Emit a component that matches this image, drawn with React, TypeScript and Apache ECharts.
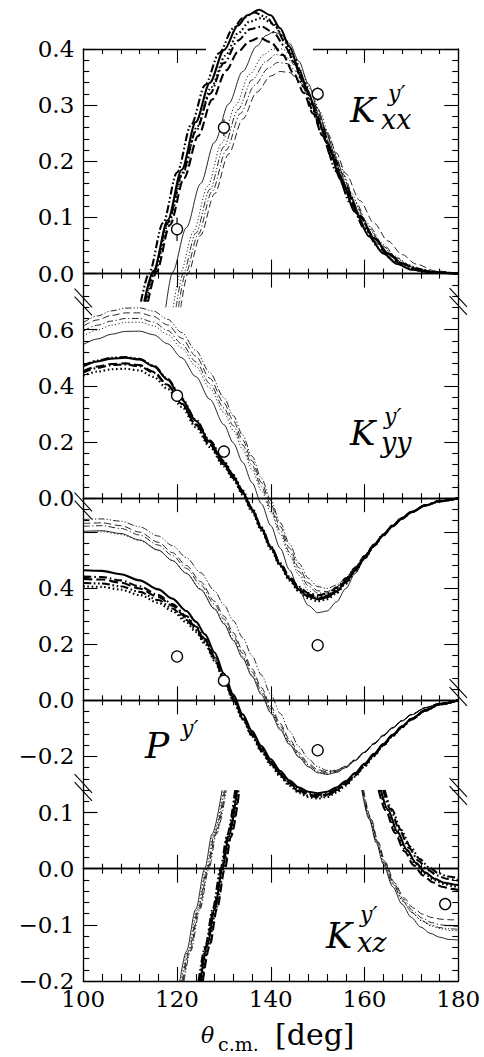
import React, { useEffect, useRef } from 'react';
import * as echarts from 'echarts';

// ---------------- DATA (theta in deg, observable value) ----------------
// K_xx^y'
const KXX_THICK_SOLID = [[113,-0.05],[115,0.005],[118,0.095],[121,0.185],[124,0.27],[127,0.34],[130,0.398],[133,0.442],[135,0.46],[137.5,0.47],[140,0.46],[142,0.437],[144,0.404],[146,0.364],[148,0.322],[150,0.278],[152,0.232],[155,0.167],[158,0.11],[161,0.066],[164,0.036],[167,0.017],[170,0.007],[174,0.002],[180,0]];
const KXX_THICK_DDOT = [[112.3,-0.05],[114,0],[117,0.09],[120,0.18],[123,0.265],[126,0.336],[129,0.393],[132,0.437],[134,0.455],[136.5,0.465],[139,0.457],[141,0.44],[143,0.412],[145,0.375],[147,0.333],[149,0.29],[151,0.246],[154,0.182],[157,0.125],[160,0.08],[163,0.046],[166,0.024],[169,0.011],[173,0.003],[180,0]];
const KXX_THICK_DASHDOT = [[113.2,-0.05],[115,0.002],[118,0.09],[121,0.175],[124,0.253],[127,0.32],[130,0.375],[133,0.415],[135.5,0.435],[138,0.44],[140.5,0.43],[143,0.405],[145,0.376],[147,0.34],[149,0.3],[151,0.258],[153,0.215],[156,0.155],[159,0.104],[162,0.064],[165,0.036],[168,0.018],[171,0.008],[175,0.002],[180,0]];
const KXX_THICK_DASH = [[113.8,-0.05],[115.6,0.003],[118.5,0.087],[121.5,0.17],[124.5,0.245],[127.5,0.31],[130.5,0.362],[133,0.395],[135.5,0.414],[137.5,0.42],[140,0.412],[142.5,0.39],[145,0.355],[147,0.322],[149,0.285],[151,0.246],[153,0.206],[156,0.15],[159,0.101],[162,0.063],[165,0.036],[168,0.018],[171,0.008],[175,0.002],[180,0]];
const KXX_THICK_DOT = [[113.5,-0.05],[115.3,0.004],[118.3,0.093],[121.3,0.18],[124.3,0.262],[127.3,0.332],[130.3,0.388],[133,0.428],[135.5,0.449],[138,0.455],[140.5,0.445],[143,0.418],[145,0.385],[147,0.345],[149,0.302],[151,0.258],[153,0.214],[156,0.153],[159,0.102],[162,0.063],[165,0.036],[168,0.018],[171,0.008],[175,0.002],[180,0]];
const KXX_THIN_SOLID = [[117.6,-0.06],[119,0.002],[122,0.082],[125,0.16],[128,0.234],[131,0.302],[134,0.36],[137,0.405],[139,0.424],[140.5,0.43],[142,0.427],[144,0.41],[146,0.378],[148,0.338],[150,0.294],[152,0.248],[154,0.2],[157,0.136],[160,0.087],[163,0.052],[166,0.029],[169,0.014],[172,0.006],[176,0.001],[180,0]];
const KXX_THIN_DOT = [[119.2,-0.06],[120.7,0.001],[123.5,0.075],[126.5,0.155],[129.5,0.232],[132.5,0.3],[135.5,0.355],[138.5,0.39],[140.5,0.4],[142.5,0.4],[144.5,0.387],[146.5,0.362],[148.5,0.328],[150.5,0.288],[152.5,0.244],[154.5,0.198],[157,0.145],[160,0.095],[163,0.058],[166,0.033],[169,0.017],[172,0.008],[176,0.002],[180,0]];
const KXX_THIN_DDOT = [[119.8,-0.06],[121.3,0],[124,0.072],[127,0.15],[130,0.226],[133,0.292],[136,0.345],[139,0.378],[141,0.39],[143,0.388],[145,0.372],[147,0.343],[149,0.306],[151,0.265],[153,0.222],[155,0.18],[158,0.124],[161,0.08],[164,0.048],[167,0.026],[170,0.012],[174,0.003],[180,0]];
const KXX_THIN_DASHDOT = [[120.3,-0.06],[121.8,0],[124.5,0.07],[127.5,0.147],[130.5,0.22],[133.5,0.285],[136.5,0.335],[139.5,0.366],[141.5,0.376],[143.5,0.374],[145.5,0.36],[147.5,0.333],[149.5,0.298],[151.5,0.258],[153.5,0.216],[155.5,0.176],[158,0.128],[161,0.084],[164,0.051],[167,0.028],[170,0.013],[174,0.004],[180,0]];
const KXX_THIN_DASH = [[120.8,-0.06],[122.3,0],[125,0.068],[128,0.142],[131,0.213],[134,0.275],[137,0.323],[140,0.352],[142,0.36],[144,0.358],[146,0.343],[148,0.318],[150,0.287],[152,0.252],[154,0.215],[156,0.178],[159,0.13],[162,0.09],[165,0.058],[168,0.034],[171,0.017],[175,0.005],[180,0]];

// K_yy^y'
const KYY_THICK_SOLID = [[100,0.47],[103,0.487],[106,0.497],[109,0.5],[112,0.494],[115,0.47],[118,0.422],[121,0.352],[124,0.276],[127,0.2],[130,0.128],[132,0.078],[134,0.022],[136,-0.04],[138,-0.108],[140,-0.175],[142,-0.237],[144,-0.288],[146,-0.327],[148,-0.35],[150,-0.36],[152,-0.354],[154,-0.333],[156,-0.3],[158,-0.258],[160,-0.213],[162,-0.17],[164,-0.132],[166,-0.1],[168,-0.073],[170,-0.05],[173,-0.026],[176,-0.011],[180,0]];
const KYY_THICK_DDOT = [[100,0.472],[103,0.49],[106,0.5],[109,0.503],[112,0.496],[115,0.472],[118,0.425],[121,0.356],[124,0.28],[127,0.205],[130,0.133],[132,0.083],[134,0.027],[136,-0.035],[138,-0.103],[140,-0.17],[142,-0.232],[144,-0.283],[146,-0.32],[148,-0.343],[150,-0.352],[152,-0.347],[154,-0.327],[156,-0.295],[158,-0.254],[160,-0.21],[162,-0.168],[164,-0.13],[166,-0.098],[168,-0.071],[170,-0.049],[173,-0.025],[176,-0.01],[180,0]];
const KYY_THICK_DASH = [[100,0.452],[103,0.469],[106,0.478],[109,0.48],[112,0.474],[115,0.45],[118,0.404],[121,0.337],[124,0.263],[127,0.19],[130,0.12],[132,0.072],[134,0.018],[136,-0.043],[138,-0.11],[140,-0.176],[142,-0.237],[144,-0.287],[146,-0.325],[148,-0.348],[150,-0.357],[152,-0.351],[154,-0.331],[156,-0.298],[158,-0.257],[160,-0.212],[162,-0.17],[164,-0.132],[166,-0.099],[168,-0.072],[170,-0.05],[173,-0.026],[176,-0.011],[180,0]];
const KYY_THICK_DASHDOT = [[100,0.447],[103,0.464],[106,0.474],[109,0.476],[112,0.47],[115,0.447],[118,0.402],[121,0.336],[124,0.262],[127,0.19],[130,0.121],[132,0.073],[134,0.019],[136,-0.042],[138,-0.108],[140,-0.173],[142,-0.232],[144,-0.28],[146,-0.316],[148,-0.338],[150,-0.346],[152,-0.34],[154,-0.32],[156,-0.289],[158,-0.25],[160,-0.207],[162,-0.166],[164,-0.129],[166,-0.097],[168,-0.07],[170,-0.049],[173,-0.025],[176,-0.01],[180,0]];
const KYY_THICK_DOT = [[100,0.436],[103,0.451],[106,0.459],[109,0.461],[112,0.455],[115,0.432],[118,0.389],[121,0.325],[124,0.253],[127,0.182],[130,0.113],[132,0.066],[134,0.012],[136,-0.049],[138,-0.116],[140,-0.182],[142,-0.243],[144,-0.294],[146,-0.333],[148,-0.357],[150,-0.367],[152,-0.36],[154,-0.339],[156,-0.305],[158,-0.262],[160,-0.216],[162,-0.172],[164,-0.133],[166,-0.1],[168,-0.073],[170,-0.05],[173,-0.026],[176,-0.011],[180,0]];
const KYY_THIN_SOLID = [[100,0.547],[103,0.567],[106,0.584],[109,0.594],[112,0.595],[115,0.582],[118,0.55],[121,0.5],[124,0.433],[127,0.352],[130,0.262],[132,0.197],[134,0.128],[136,0.055],[138,-0.02],[140,-0.098],[142,-0.178],[144,-0.256],[146,-0.328],[148,-0.382],[150,-0.408],[152,-0.402],[154,-0.37],[156,-0.322],[158,-0.268],[160,-0.217],[162,-0.172],[164,-0.133],[166,-0.1],[168,-0.072],[170,-0.049],[173,-0.025],[176,-0.01],[180,0]];
const KYY_THIN_DOT = [[100,0.577],[103,0.599],[106,0.616],[109,0.626],[112,0.627],[115,0.614],[118,0.583],[121,0.535],[124,0.47],[127,0.392],[130,0.305],[132,0.242],[134,0.174],[136,0.102],[138,0.027],[140,-0.05],[142,-0.128],[144,-0.205],[146,-0.275],[148,-0.328],[150,-0.355],[152,-0.353],[154,-0.332],[156,-0.296],[158,-0.252],[160,-0.208],[162,-0.166],[164,-0.13],[166,-0.098],[168,-0.071],[170,-0.049],[173,-0.025],[176,-0.01],[180,0]];
const KYY_THIN_DASHDOT = [[100,0.595],[103,0.616],[106,0.631],[109,0.64],[112,0.64],[115,0.627],[118,0.597],[121,0.55],[124,0.486],[127,0.408],[130,0.321],[132,0.258],[134,0.19],[136,0.117],[138,0.041],[140,-0.037],[142,-0.116],[144,-0.193],[146,-0.262],[148,-0.313],[150,-0.338],[152,-0.338],[154,-0.318],[156,-0.285],[158,-0.245],[160,-0.203],[162,-0.163],[164,-0.128],[166,-0.097],[168,-0.07],[170,-0.048],[173,-0.025],[176,-0.01],[180,0]];
const KYY_THIN_DASH = [[100,0.613],[103,0.635],[106,0.651],[109,0.66],[112,0.66],[115,0.647],[118,0.617],[121,0.57],[124,0.506],[127,0.427],[130,0.339],[132,0.276],[134,0.207],[136,0.133],[138,0.056],[140,-0.022],[142,-0.101],[144,-0.178],[146,-0.248],[148,-0.302],[150,-0.33],[152,-0.333],[154,-0.316],[156,-0.285],[158,-0.246],[160,-0.205],[162,-0.165],[164,-0.13],[166,-0.098],[168,-0.071],[170,-0.049],[173,-0.025],[176,-0.01],[180,0]];
const KYY_THIN_DDOT = [[100,0.625],[103,0.649],[106,0.667],[109,0.677],[112,0.678],[115,0.666],[118,0.637],[121,0.59],[124,0.526],[127,0.447],[130,0.358],[132,0.294],[134,0.224],[136,0.149],[138,0.071],[140,-0.008],[142,-0.087],[144,-0.163],[146,-0.232],[148,-0.285],[150,-0.315],[152,-0.322],[154,-0.31],[156,-0.283],[158,-0.246],[160,-0.206],[162,-0.166],[164,-0.131],[166,-0.099],[168,-0.072],[170,-0.05],[173,-0.026],[176,-0.01],[180,0]];

// P^y'
const PY_THICK_SOLID = [[100,0.463],[104,0.461],[108,0.449],[112,0.427],[116,0.395],[119,0.362],[122,0.318],[124,0.28],[126,0.234],[128,0.17],[130,0.095],[132,0.02],[134,-0.05],[136,-0.11],[138,-0.163],[140,-0.21],[142,-0.252],[144,-0.286],[146,-0.311],[148,-0.326],[150,-0.331],[152,-0.326],[154,-0.311],[156,-0.288],[158,-0.259],[160,-0.226],[162,-0.191],[164,-0.156],[166,-0.123],[168,-0.093],[170,-0.066],[173,-0.035],[176,-0.014],[180,0]];
const PY_THICK_DASHDOT = [[100,0.441],[104,0.439],[108,0.427],[112,0.406],[116,0.375],[119,0.343],[122,0.3],[124,0.263],[126,0.218],[128,0.156],[130,0.083],[132,0.01],[134,-0.058],[136,-0.118],[138,-0.172],[140,-0.219],[142,-0.26],[144,-0.293],[146,-0.318],[148,-0.333],[150,-0.338],[152,-0.333],[154,-0.318],[156,-0.294],[158,-0.264],[160,-0.23],[162,-0.194],[164,-0.158],[166,-0.124],[168,-0.094],[170,-0.067],[173,-0.036],[176,-0.014],[180,0]];
const PY_THICK_DASH = [[100,0.432],[104,0.43],[108,0.419],[112,0.398],[116,0.368],[119,0.337],[122,0.295],[124,0.258],[126,0.213],[128,0.152],[130,0.079],[132,0.006],[134,-0.061],[136,-0.121],[138,-0.175],[140,-0.222],[142,-0.263],[144,-0.296],[146,-0.321],[148,-0.336],[150,-0.341],[152,-0.336],[154,-0.32],[156,-0.296],[158,-0.265],[160,-0.231],[162,-0.195],[164,-0.159],[166,-0.125],[168,-0.094],[170,-0.067],[173,-0.036],[176,-0.014],[180,0]];
const PY_THICK_DDOT = [[100,0.418],[104,0.416],[108,0.406],[112,0.386],[116,0.357],[119,0.327],[122,0.286],[124,0.25],[126,0.206],[128,0.146],[130,0.074],[132,0.002],[134,-0.065],[136,-0.125],[138,-0.179],[140,-0.226],[142,-0.267],[144,-0.3],[146,-0.325],[148,-0.34],[150,-0.345],[152,-0.34],[154,-0.324],[156,-0.3],[158,-0.268],[160,-0.233],[162,-0.196],[164,-0.16],[166,-0.126],[168,-0.095],[170,-0.068],[173,-0.036],[176,-0.014],[180,0]];
const PY_THICK_DOT = [[100,0.406],[104,0.404],[108,0.394],[112,0.375],[116,0.347],[119,0.318],[122,0.278],[124,0.243],[126,0.2],[128,0.141],[130,0.07],[132,-0.002],[134,-0.069],[136,-0.129],[138,-0.183],[140,-0.231],[142,-0.272],[144,-0.305],[146,-0.33],[148,-0.345],[150,-0.35],[152,-0.345],[154,-0.329],[156,-0.304],[158,-0.272],[160,-0.236],[162,-0.199],[164,-0.162],[166,-0.128],[168,-0.096],[170,-0.069],[173,-0.037],[176,-0.015],[180,0]];
const PY_THIN_SOLID = [[100,0.602],[104,0.604],[108,0.594],[112,0.571],[116,0.535],[119,0.498],[122,0.452],[125,0.395],[128,0.325],[130,0.272],[132,0.213],[134,0.15],[136,0.085],[138,0.02],[140,-0.045],[142,-0.105],[144,-0.158],[146,-0.203],[148,-0.237],[150,-0.258],[152,-0.264],[154,-0.257],[156,-0.24],[158,-0.215],[160,-0.186],[162,-0.156],[164,-0.127],[166,-0.099],[168,-0.074],[170,-0.052],[173,-0.027],[176,-0.011],[180,0]];
const PY_THIN_DOT = [[100,0.598],[104,0.6],[108,0.591],[112,0.569],[116,0.534],[119,0.498],[122,0.453],[125,0.397],[128,0.328],[130,0.276],[132,0.218],[134,0.156],[136,0.091],[138,0.026],[140,-0.039],[142,-0.1],[144,-0.154],[146,-0.2],[148,-0.235],[150,-0.256],[152,-0.263],[154,-0.256],[156,-0.239],[158,-0.214],[160,-0.185],[162,-0.155],[164,-0.126],[166,-0.098],[168,-0.073],[170,-0.051],[173,-0.027],[176,-0.011],[180,0]];
const PY_THIN_DASHDOT = [[100,0.62],[104,0.622],[108,0.612],[112,0.589],[116,0.553],[119,0.516],[122,0.47],[125,0.412],[128,0.342],[130,0.289],[132,0.23],[134,0.167],[136,0.101],[138,0.035],[140,-0.031],[142,-0.092],[144,-0.147],[146,-0.194],[148,-0.23],[150,-0.252],[152,-0.259],[154,-0.253],[156,-0.237],[158,-0.213],[160,-0.184],[162,-0.154],[164,-0.125],[166,-0.097],[168,-0.072],[170,-0.051],[173,-0.026],[176,-0.011],[180,0]];
const PY_THIN_DASH = [[100,0.63],[104,0.632],[108,0.622],[112,0.599],[116,0.563],[119,0.526],[122,0.48],[125,0.423],[128,0.353],[130,0.3],[132,0.241],[134,0.178],[136,0.112],[138,0.045],[140,-0.021],[142,-0.083],[144,-0.139],[146,-0.187],[148,-0.224],[150,-0.247],[152,-0.255],[154,-0.25],[156,-0.235],[158,-0.211],[160,-0.183],[162,-0.153],[164,-0.124],[166,-0.097],[168,-0.072],[170,-0.05],[173,-0.026],[176,-0.011],[180,0]];
const PY_THIN_DDOT = [[100,0.644],[104,0.646],[108,0.638],[112,0.618],[116,0.585],[119,0.551],[122,0.508],[125,0.455],[128,0.39],[130,0.34],[132,0.284],[134,0.223],[136,0.158],[138,0.09],[140,0.02],[142,-0.047],[144,-0.11],[146,-0.165],[148,-0.208],[150,-0.237],[152,-0.25],[154,-0.249],[156,-0.236],[158,-0.213],[160,-0.185],[162,-0.155],[164,-0.125],[166,-0.098],[168,-0.073],[170,-0.051],[173,-0.027],[176,-0.011],[180,0]];

// K_xz^y' ('-' marks the stretch where the curve leaves the panel)
const KXZ_THICK_SOLID = [[125,-0.2],[126.5,-0.136],[128,-0.072],[129.7,0],[131,0.057],[132.8,0.14],[145,'-'],[163.5,0.14],[165,0.105],[167,0.066],[169,0.034],[171,0.01],[173,-0.007],[175,-0.018],[177,-0.025],[179,-0.028],[180,-0.029]];
const KXZ_THICK_DASH = [[125.5,-0.2],[127,-0.136],[128.5,-0.072],[130.2,0],[131.5,0.057],[133.3,0.14],[145,'-'],[163,0.14],[164.5,0.104],[166.5,0.064],[168.5,0.031],[170.5,0.006],[172.5,-0.012],[174.5,-0.024],[176.5,-0.032],[178.5,-0.036],[180,-0.038]];
const KXZ_THICK_DASHDOT = [[124.8,-0.2],[126.3,-0.136],[127.8,-0.072],[129.5,0],[130.8,0.057],[132.6,0.14],[145,'-'],[164,0.14],[165.5,0.106],[167.5,0.068],[169.5,0.037],[171.5,0.014],[173.5,-0.002],[175.5,-0.012],[177.5,-0.018],[180,-0.021]];
const KXZ_THICK_DOT = [[125.3,-0.2],[126.8,-0.136],[128.3,-0.072],[130,0],[131.3,0.057],[133.1,0.14],[145,'-'],[163.3,0.14],[164.8,0.105],[166.8,0.065],[168.8,0.033],[170.8,0.009],[172.8,-0.009],[174.8,-0.02],[176.8,-0.027],[178.8,-0.031],[180,-0.033]];
const KXZ_THICK_DDOT = [[124.6,-0.2],[126.1,-0.136],[127.6,-0.072],[129.3,0],[130.6,0.057],[132.4,0.14],[145,'-'],[164.3,0.14],[165.8,0.106],[167.8,0.069],[169.8,0.039],[171.8,0.017],[173.8,0.002],[175.8,-0.008],[177.8,-0.014],[180,-0.017]];
const KXZ_THIN_SOLID = [[120.6,-0.2],[122,-0.147],[124,-0.072],[125.9,0],[127.5,0.062],[129.6,0.14],[145,'-'],[159.4,0.14],[161,0.088],[162.5,0.046],[164,0.008],[166,-0.032],[168,-0.063],[170,-0.087],[172,-0.104],[174,-0.115],[176,-0.122],[178,-0.126],[180,-0.127]];
const KXZ_THIN_DASH = [[121.3,-0.2],[122.7,-0.147],[124.7,-0.072],[126.6,0],[128.2,0.062],[130.3,0.14],[145,'-'],[159.8,0.14],[161.4,0.089],[162.9,0.048],[164.4,0.012],[166.4,-0.025],[168.4,-0.052],[170.4,-0.07],[172.4,-0.081],[174.4,-0.087],[176.4,-0.09],[178.4,-0.091],[180,-0.091]];
const KXZ_THIN_DOT = [[120.9,-0.2],[122.3,-0.147],[124.3,-0.072],[126.2,0],[127.8,0.062],[129.9,0.14],[145,'-'],[159.6,0.14],[161.2,0.088],[162.7,0.047],[164.2,0.01],[166.2,-0.029],[168.2,-0.058],[170.2,-0.079],[172.2,-0.093],[174.2,-0.102],[176.2,-0.107],[178.2,-0.11],[180,-0.111]];
const KXZ_THIN_DASHDOT = [[121.1,-0.2],[122.5,-0.147],[124.5,-0.072],[126.4,0],[128,0.062],[130.1,0.14],[145,'-'],[159.7,0.14],[161.3,0.089],[162.8,0.047],[164.3,0.011],[166.3,-0.027],[168.3,-0.055],[170.3,-0.075],[172.3,-0.088],[174.3,-0.096],[176.3,-0.1],[178.3,-0.102],[180,-0.103]];
const KXZ_THIN_DDOT = [[121.5,-0.2],[122.9,-0.147],[124.9,-0.072],[126.8,0],[128.4,0.062],[130.5,0.14],[145,'-'],[159.5,0.14],[161.1,0.088],[162.6,0.047],[164.1,0.01],[166.1,-0.028],[168.1,-0.057],[170.1,-0.078],[172.1,-0.092],[174.1,-0.1],[176.1,-0.105],[178.1,-0.107],[180,-0.108]];

// measured points: [theta, value, error]
const KXX_OBS = [[120, 0.079, 0.021], [130, 0.26, 0.015], [150, 0.32, 0.012]];
const KYY_OBS = [[120, 0.365, 0], [130, 0.166, 0], [150, -0.524, 0]];
const PY_OBS = [[120, 0.156, 0], [130, 0.07, 0], [150, -0.178, 0]];
const KXZ_OBS = [[177.2, -0.063, 0]];

// axes
const X_MIN = 100, X_MAX = 180, X_STEP = 20;
const KXX_RANGE = [0, 0.4, 0.1];
const KYY_RANGE = [0, 0.8, 0.2];
const PY_RANGE = [-0.4, 0.72, 0.2];
const KXZ_RANGE = [-0.2, 0.1, 0.1];

// ---------------- LAYOUT / STYLE ----------------
const W = 484, H = 1057;
const PL = 83.3, PR = 458.3;
const FT = 49, FB = 981;
const U = (FB - FT) / 83;
const SERIF = "'DejaVu Serif', serif";
const INK = '#000';

const DASHES: Record<string, any> = {
  solid: 'solid',
  dash: [9, 4],
  dot: [1.6, 2.6],
  dashdot: [8, 3, 1.6, 3],
  ddot: [8, 2.5, 1.6, 2.5, 1.6, 2.5],
};
const THIN_DASHES: Record<string, any> = {
  solid: 'solid',
  dash: [7, 3.5],
  dot: [1.2, 2.2],
  dashdot: [6.5, 2.5, 1.2, 2.5],
  ddot: [6.5, 2, 1.2, 2, 1.2, 2],
};

const fmt = (v: number) => (v < -1e-9 ? '\u2212' : '') + Math.abs(v).toFixed(1);

function App() {
  const ref = useRef<HTMLDivElement>(null);
  useEffect(() => {
    if (!ref.current) return;
    const chart = echarts.init(ref.current, undefined, { renderer: 'svg', width: W, height: H });

    const grids = [
      { left: PL, width: PR - PL, top: FT, height: 20 * U, outerBoundsMode: 'none' },
      { left: PL, width: PR - PL, top: FT + 20 * U, height: 20 * U, outerBoundsMode: 'none' },
      { left: PL, width: PR - PL, top: FT + 40 * U, height: 28 * U, outerBoundsMode: 'none' },
      { left: PL, width: PR - PL, top: FT + 68 * U, height: 15 * U, outerBoundsMode: 'none' },
    ];

    const lineSt = { color: INK, width: 1.3 };
    const tickSt = { color: INK, width: 1.1 };
    const xAxis = (grid: number, position: string, onZero: boolean, inside: boolean, labels = false) => ({
      type: 'value', gridIndex: grid, min: X_MIN, max: X_MAX, interval: X_STEP, position,
      axisLine: { show: true, onZero, lineStyle: lineSt },
      axisTick: { show: true, inside, length: 14, lineStyle: tickSt },
      minorTick: { show: true, splitNumber: 5, length: labels ? 7 : 5, lineStyle: tickSt },
      axisLabel: { show: labels, color: INK, fontFamily: SERIF, fontSize: 23, lineHeight: 16, margin: 10 },
      splitLine: { show: false }, minorSplitLine: { show: false },
    });
    const yAxis = (grid: number, position: string, r: number[], keep?: (v: number) => boolean) => ({
      type: 'value', gridIndex: grid, position, min: r[0], max: r[1], interval: r[2],
      axisLine: { show: true, onZero: false, lineStyle: lineSt },
      axisTick: { show: true, inside: true, length: 14, lineStyle: tickSt },
      minorTick: { show: true, splitNumber: 5, length: 6, lineStyle: tickSt },
      axisLabel: {
        show: !!keep, color: INK, fontFamily: SERIF, fontSize: 23, lineHeight: 16, margin: 9,
        showMinLabel: true, showMaxLabel: true,
        formatter: (v: number) => (keep && keep(v) ? fmt(v) : ''),
      },
      splitLine: { show: false }, minorSplitLine: { show: false },
    });

    const xAxes = [
      xAxis(0, 'top', false, true),     // 0 frame top
      xAxis(0, 'bottom', true, true),   // 1 Kxx zero
      xAxis(1, 'top', false, true),     // 2
      xAxis(1, 'bottom', true, true),   // 3 Kyy zero
      xAxis(2, 'top', false, true),     // 4
      xAxis(2, 'bottom', true, true),   // 5 Py zero (up)
      xAxis(2, 'bottom', true, false),  // 6 Py zero (down)
      xAxis(3, 'bottom', true, true),   // 7 Kxz zero (up)
      xAxis(3, 'bottom', true, false),  // 8 Kxz zero (down)
      xAxis(3, 'bottom', false, true, true), // 9 frame bottom with labels
    ];
    const yAxes = [
      yAxis(0, 'left', KXX_RANGE, () => true), yAxis(0, 'right', KXX_RANGE),
      yAxis(1, 'left', KYY_RANGE, (v) => v < 0.7), yAxis(1, 'right', KYY_RANGE),
      yAxis(2, 'left', PY_RANGE, (v) => v > -0.3 && v < 0.5), yAxis(2, 'right', PY_RANGE),
      yAxis(3, 'left', KXZ_RANGE, () => true), yAxis(3, 'right', KXZ_RANGE),
    ];

    const panels = [
      { x: 0, y: 0, curves: [
        [KXX_THIN_SOLID, 'solid', false], [KXX_THIN_DOT, 'dot', false], [KXX_THIN_DDOT, 'ddot', false],
        [KXX_THIN_DASHDOT, 'dashdot', false], [KXX_THIN_DASH, 'dash', false],
        [KXX_THICK_DASH, 'dash', true], [KXX_THICK_DASHDOT, 'dashdot', true], [KXX_THICK_DOT, 'dot', true],
        [KXX_THICK_DDOT, 'ddot', true], [KXX_THICK_SOLID, 'solid', true],
      ], obs: KXX_OBS },
      { x: 2, y: 2, curves: [
        [KYY_THIN_SOLID, 'solid', false], [KYY_THIN_DOT, 'dot', false], [KYY_THIN_DASHDOT, 'dashdot', false],
        [KYY_THIN_DASH, 'dash', false], [KYY_THIN_DDOT, 'ddot', false],
        [KYY_THICK_DOT, 'dot', true], [KYY_THICK_DASHDOT, 'dashdot', true], [KYY_THICK_DASH, 'dash', true],
        [KYY_THICK_DDOT, 'ddot', true], [KYY_THICK_SOLID, 'solid', true],
      ], obs: KYY_OBS },
      { x: 4, y: 4, curves: [
        [PY_THIN_SOLID, 'solid', false], [PY_THIN_DOT, 'dot', false], [PY_THIN_DASHDOT, 'dashdot', false],
        [PY_THIN_DASH, 'dash', false], [PY_THIN_DDOT, 'ddot', false],
        [PY_THICK_DOT, 'dot', true], [PY_THICK_DDOT, 'ddot', true], [PY_THICK_DASH, 'dash', true],
        [PY_THICK_DASHDOT, 'dashdot', true], [PY_THICK_SOLID, 'solid', true],
      ], obs: PY_OBS },
      { x: 7, y: 6, curves: [
        [KXZ_THIN_SOLID, 'solid', false], [KXZ_THIN_DOT, 'dot', false], [KXZ_THIN_DASHDOT, 'dashdot', false],
        [KXZ_THIN_DASH, 'dash', false], [KXZ_THIN_DDOT, 'ddot', false],
        [KXZ_THICK_DOT, 'dot', true], [KXZ_THICK_DDOT, 'ddot', true], [KXZ_THICK_DASH, 'dash', true],
        [KXZ_THICK_DASHDOT, 'dashdot', true], [KXZ_THICK_SOLID, 'solid', true],
      ], obs: KXZ_OBS },
    ];

    const series: any[] = [];
    panels.forEach((p, pi) => {
      p.curves.forEach((c: any, ci) => {
        const thick = c[2];
        series.push({
          type: 'line', name: `p${pi}c${ci}`, xAxisIndex: p.x, yAxisIndex: p.y,
          data: c[0], symbol: 'none', showSymbol: false, smooth: 0.3, smoothMonotone: 'x',
          clip: false, silent: true, connectNulls: false, z: 2,
          lineStyle: { color: INK, width: thick ? 2.1 : 0.85, type: thick ? DASHES[c[1]] : THIN_DASHES[c[1]], cap: 'butt' },
        });
      });
      series.push({
        type: 'custom', xAxisIndex: p.x, yAxisIndex: p.y, data: p.obs, clip: false, silent: true, z: 3,
        encode: { x: 0, y: 1 },
        renderItem: (params: any, api: any) => {
          const x = api.value(0), y = api.value(1), e = api.value(2);
          if (!e) return null;
          const a = api.coord([x, y - e]);
          const b = api.coord([x, y + e]);
          return { type: 'line', shape: { x1: a[0], y1: a[1], x2: b[0], y2: b[1] }, style: { stroke: INK, lineWidth: 1.2 } };
        },
      });
      series.push({
        type: 'scatter', xAxisIndex: p.x, yAxisIndex: p.y, data: p.obs.map((d) => [d[0], d[1]]),
        symbol: 'circle', symbolSize: 11, clip: false, silent: true, z: 4,
        itemStyle: { color: '#fff', borderColor: INK, borderWidth: 1.3, opacity: 1 },
      });
    });

    // decorations: axis breaks, frame gap, labels
    const BREAKS = [[PL, 302], [PL, 506], [PL, 787.5], [PR, 301.5], [PR, 692.5], [PR, 791.5]];
    const graphic: any[] = [
      { type: 'rect', shape: { x: 206, y: 44, width: 107, height: 22 }, style: { fill: '#fff' }, z: 1, silent: true },
    ];
    BREAKS.forEach(([cx, cy]) => {
      [-4, 4].forEach((d) => {
        graphic.push({ type: 'line', shape: { x1: cx - 8.7, y1: cy + d - 9.3, x2: cx + 8.7, y2: cy + d + 9.3 },
          style: { stroke: INK, lineWidth: 1.1 }, z: 5, silent: true });
      });
    });
    const txt = (s: string, x: number, y: number, size: number, italic: boolean) => ({
      type: 'text', x, y, z: 6, silent: true,
      style: { text: s, fontSize: size, fontFamily: SERIF, fontStyle: italic ? 'italic' : 'normal', fill: INK, align: 'left', verticalAlign: 'middle' },
    });
    graphic.push(
      txt('K', 350, 110.2, 34, true), txt('y\u2032', 388, 93.8, 22, true), txt('xx', 381, 119.7, 27, true),
      txt('K', 350, 433.2, 34, true), txt('y\u2032', 384, 416.8, 22, true), txt('yy', 381, 442.7, 27, true),
      txt('P', 145, 745.5, 36, true), txt('y\u2032', 181, 728.8, 22, true),
      txt('K', 326, 935.9, 35, true), txt('y\u2032', 360, 914.5, 22, true), txt('xz', 357, 942.5, 27, true),
      txt('\u03b8', 201, 1035.4, 22, true), txt('c.m.', 218, 1044.4, 19, false), txt('[deg]', 275, 1034.6, 30, false),
    );

    chart.setOption({
      animation: false,
      backgroundColor: '#fff',
      grid: grids,
      xAxis: xAxes,
      yAxis: yAxes,
      series,
      graphic,
    });
    return () => chart.dispose();
  }, []);
  return <div ref={ref} style={{ position: 'absolute', left: 0, top: 0, width: W, height: H, background: '#fff' }} />;
}

export default App;
